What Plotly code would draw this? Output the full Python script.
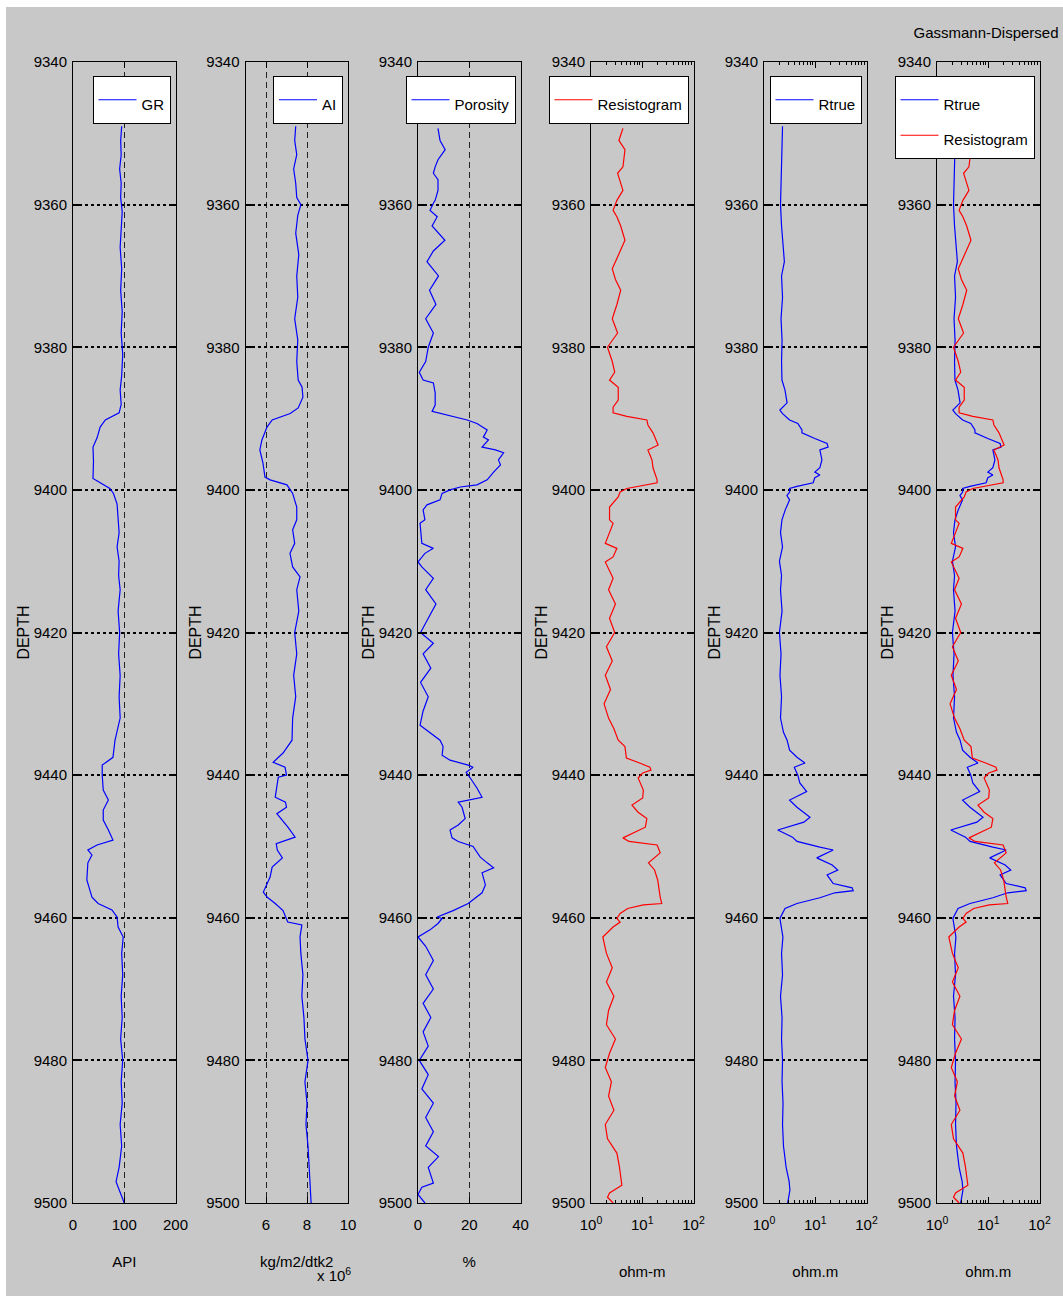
import plotly.graph_objects as go

W, H = 1063, 1297
FONT = "Liberation Sans, Arial, Helvetica, sans-serif"

# ---------------- data ----------------
gr_depth = [9349, 9351, 9353, 9355, 9357, 9359, 9361, 9363, 9366, 9369, 9372, 9375, 9378, 9381, 9384, 9386, 9388,
            9389.2, 9390.2, 9391.2, 9392.7, 9394, 9396, 9398.4, 9399, 9399.8, 9400.5, 9402, 9404, 9406, 9408, 9410,
            9412, 9414, 9417, 9420, 9423, 9426, 9429, 9432, 9435.1, 9437.5, 9438.6, 9440, 9442.1, 9443.5, 9444.9,
            9446.3, 9447.7, 9449.1, 9449.8, 9450.5, 9451.2, 9452.3, 9454.7, 9457.1, 9458, 9458.9, 9459.9, 9461.3,
            9462.7, 9465, 9468, 9471, 9474, 9477, 9480, 9483, 9486, 9489, 9492, 9495, 9497, 9498.5, 9500]
gr_api = [95, 93, 94, 91, 94, 93, 96, 94, 92, 95, 93, 96, 94, 97, 95, 92, 94,
          90, 63, 53, 47, 39, 40, 39, 53, 72, 79, 86, 88, 90, 86, 90,
          89, 92, 88, 91, 89, 92, 90, 92, 82, 78, 57, 57, 59, 69, 59,
          59, 69, 78, 47, 29, 37, 29, 27, 37, 49, 76, 86, 88,
          98, 95, 97, 94, 96, 93, 97, 94, 96, 92, 95, 90, 84, 92, 100]

ai_depth = [9349, 9351, 9353, 9355, 9357, 9359, 9360, 9361.5, 9364, 9367, 9370, 9373, 9376, 9379, 9382, 9384.6,
            9385.6, 9387, 9388.5, 9389.3, 9390.2, 9391.2, 9393, 9394.4, 9396.2, 9398.2, 9398.6, 9399.3, 9400.5,
            9402.4, 9404.2, 9405.6, 9407.5, 9408.9, 9410.8, 9412.2, 9414, 9417, 9420, 9423, 9426, 9429, 9432,
            9435.1, 9436.9, 9438.2, 9438.9, 9440, 9440.3, 9443.1, 9443.8, 9444.5, 9445.4, 9447.3, 9448.7, 9449.6,
            9450.5, 9451.6, 9452.9, 9454.3, 9456.4, 9457.1, 9458, 9459, 9460.6, 9461, 9462.7, 9465, 9468, 9471,
            9474, 9477, 9480, 9483, 9486, 9489, 9492, 9495, 9497, 9500]
ai_val = [7.45, 7.4, 7.5, 7.35, 7.45, 7.5, 7.7, 7.55, 7.45, 7.6, 7.5, 7.55, 7.4, 7.55, 7.5, 7.57,
          7.76, 7.8, 7.57, 7.18, 6.3, 6.05, 5.8, 5.7, 5.85, 5.95, 6.2, 7.02, 7.3,
          7.5, 7.5, 7.3, 7.4, 7.17, 7.3, 7.66, 7.5, 7.6, 7.4, 7.5, 7.35, 7.45, 7.3,
          7.27, 6.83, 6.35, 6.93, 7.0, 6.6, 6.45, 6.95, 7.0, 6.53, 7.07, 7.42, 6.5,
          6.55, 6.8, 6.3, 6.2, 5.87, 6.05, 6.45, 6.83, 7.06, 7.75, 7.66, 7.7, 7.8, 7.75,
          7.85, 7.9, 8.05, 7.9, 8.0, 7.95, 8.05, 8.1, 8.15, 8.2]

por_depth = [9349.3, 9351, 9352.3, 9353.7, 9354.7, 9355.6, 9356.5, 9358, 9359.4, 9359.8, 9360.8, 9361.7, 9363,
             9365, 9366.5, 9368, 9370, 9372, 9374, 9376, 9378, 9380, 9382, 9383.5, 9384.6, 9385, 9386.4, 9388.1,
             9389, 9389.5, 9390.2, 9390.7, 9391.6, 9392.6, 9393, 9394, 9394.4, 9394.8, 9395.8, 9396.5, 9397.5,
             9398.6, 9399.3, 9399.6, 9400, 9400.5, 9401.4, 9402.1, 9402.8, 9404.2, 9404.7, 9407.5, 9408.2, 9408.9,
             9410.1, 9410.8, 9412.4, 9414, 9416, 9418, 9420, 9421.5, 9423, 9425, 9427, 9429, 9431, 9433,
             9435.1, 9436, 9437.2, 9437.9, 9438.6, 9438.9, 9439.6, 9440.4, 9441.8, 9443.1, 9443.8, 9444.5, 9446.1,
             9447, 9447.7, 9448.8, 9449.3, 9450, 9451.5, 9452.3, 9453, 9453.7, 9455.4, 9456.5, 9458, 9459,
             9459.9, 9460.1, 9460.8, 9461.7, 9462.7, 9464, 9466, 9468, 9470, 9472, 9474, 9476, 9478, 9480,
             9482, 9484, 9486, 9488, 9490, 9492, 9493.5, 9495, 9497.2, 9497.8, 9498.8, 9500]
por_pct = [7.8, 8.6, 10.6, 7.8, 6.7, 6.0, 7.8, 7.8, 6.7, 6.0, 4.7, 7.5, 5.5,
           10.5, 6, 3.5, 8, 4.5, 7, 3, 6, 4, 3, 0.5, 2, 6, 6.7, 6.7,
           5.5, 11.3, 19.2, 23, 27, 25.5, 27.5, 25, 30.2, 33.4, 31.4, 32.2, 29.5,
           27, 23, 16.5, 12.5, 9.4, 8.6, 3.5, 2, 2.7, 0.8, 1.5, 6, 2.7,
           0, 1.5, 6, 3, 7, 4, 1, 6, 2, 5, 1, 4, 2, 0.8,
           8.6, 9.8, 9.4, 12.5, 19.6, 21.5, 18.8, 20.4, 23, 25, 15.7, 17.2, 18.4,
           15.7, 12.5, 13.3, 15.7, 21.5, 24.3, 27, 29.5, 25, 26.3, 25, 19.6, 13.7,
           7.5, 9.4, 7.8, 4.7, 0, 3, 6, 3, 6, 2, 5, 2, 4, 0.5,
           4, 1.5, 6, 3, 6, 3, 8, 4, 6, 1.5, 0, 2.7]

res_depth = [9349.3, 9351, 9352.3, 9354.7, 9355.6, 9358, 9359.4, 9360.8, 9361.7, 9363, 9365, 9367, 9369, 9370.5,
             9372, 9374, 9376, 9378, 9380, 9382, 9383.5, 9384.6, 9385.6, 9387.4, 9388.4, 9389.2, 9389.7, 9390.2,
             9390.9, 9392, 9393.7, 9394.4, 9395.8, 9396.9, 9398.6, 9399, 9399.5, 9399.8, 9400.3, 9401, 9402.4,
             9404.2, 9404.7, 9407.5, 9408.2, 9409.4, 9410.1, 9412.4, 9414, 9416, 9418, 9420, 9422, 9424, 9426,
             9428, 9430, 9432, 9433.5, 9435.1, 9436, 9437.6, 9438.3, 9438.9, 9439.3, 9439.7, 9440.4, 9442.1,
             9443.2, 9444.2, 9445.2, 9446.1, 9447.3, 9448, 9448.8, 9449.3, 9449.8, 9450.9, 9452.3, 9453.3, 9454.7,
             9457.1, 9458, 9458.2, 9458.7, 9459.4, 9460.1, 9460.6, 9461.3, 9462.7, 9465, 9467, 9469, 9471, 9473,
             9475, 9477, 9479, 9481, 9483, 9485, 9487, 9489, 9491, 9493, 9495, 9497.5, 9498.6, 9499.2, 9500]
res_ohmm = [4.2, 3.5, 4.6, 4.2, 3.3, 4.2, 3.2, 2.7, 3.2, 3.8, 4.6, 3.4, 2.6, 3.0,
            3.8, 3.2, 2.6, 3.3, 2.1, 2.6, 2.9, 2.3, 3.4, 3.4, 2.7, 2.7, 5.0, 12.3,
            12.9, 16.2, 20.4, 12.9, 15.5, 16.2, 19.5, 19.5, 9.1, 5.0, 3.7, 3.4, 2.3,
            2.3, 2.7, 1.9, 3.2, 2.7, 1.9, 2.7, 2.2, 3.0, 2.3, 2.9, 2.0, 2.6, 1.9,
            2.4, 1.8, 2.2, 2.8, 3.4, 4.6, 4.9, 8.9, 14.1, 14.8, 10.2, 8.3, 10.5,
            10.2, 6.3, 8.3, 12.3, 11.5, 7.0, 4.2, 5.5, 19.5, 22.4, 13.2, 17.4, 20.0,
            22.4, 24.0, 10.5, 5.2, 3.7, 3.2, 3.7, 2.7, 1.7, 2.0, 2.6, 2.0, 2.8, 2.2,
            2.0, 3.0, 2.3, 1.9, 2.5, 2.2, 2.8, 1.9, 2.1, 3.2, 3.6, 4.0, 2.3, 2.1, 2.7]

rt_depth = [9349, 9352, 9355, 9358, 9360, 9363, 9366, 9368, 9370, 9373, 9376, 9379, 9382, 9384.6, 9386, 9387.8,
            9388.8, 9389.3, 9390.2, 9390.7, 9391.6, 9392, 9392.8, 9393.5, 9394, 9394.4, 9395.8, 9396.9, 9397.5,
            9397.9, 9398.3, 9399, 9399.5, 9399.8, 9400.3, 9400.8, 9401.4, 9402.8, 9404.2, 9406, 9408, 9410, 9412,
            9414, 9417, 9420, 9423, 9426, 9429, 9432, 9434, 9435.1, 9436.5, 9437.5, 9438.3, 9438.9, 9440, 9441.1,
            9442.3, 9443.5, 9444.5, 9445.9, 9446.6, 9447.7, 9448.7, 9449.3, 9450.1, 9450.5, 9451.6, 9452.6,
            9453.3, 9454, 9455.2, 9455.8, 9456.2, 9456.5, 9457.2, 9458, 9458.7, 9460.1, 9462.7, 9465, 9468, 9471,
            9474, 9477, 9480, 9483, 9486, 9489, 9492, 9495, 9497, 9498.2, 9500]
rt_ohmm = [2.3, 2.25, 2.2, 2.15, 2.1, 2.2, 2.35, 2.5, 2.2, 2.3, 2.15, 2.25, 2.2, 2.24, 2.57, 2.82,
           2.04, 2.3, 3.16, 4.57, 5.5, 5.5, 9.8, 17.0, 17.8, 12.3, 13.5, 12.3, 9.8,
           12.3, 9.8, 9.1, 4.4, 3.16, 3.16, 2.8, 3.16, 2.6, 2.24, 2.1, 2.3, 2.0, 2.2,
           2.1, 2.25, 2.0, 2.15, 2.05, 2.2, 2.1, 2.4, 2.82, 3.16, 4.4, 6.3, 3.9, 4.57, 5.0,
           6.8, 3.16, 4.4, 7.9, 6.0, 1.86, 3.6, 4.4, 12.3, 22.4, 10.7, 21.4,
           27.5, 17.0, 22.4, 52.5, 55.0, 24.0, 12.3, 4.4, 2.57, 2.04, 2.34, 2.2, 2.3, 2.1,
           2.25, 2.2, 2.3, 2.25, 2.35, 2.3, 2.4, 2.7, 3.1, 3.2, 2.9]

depth_ticks = [9340, 9360, 9380, 9400, 9420, 9440, 9460, 9480, 9500]
gr_ticks = [0, 100, 200]
ai_ticks = [6, 8, 10]
por_ticks = [0, 20, 40]
log_ticks = [1, 10, 100]
log_ticktext = ["10<sup>0</sup>", "10<sup>1</sup>", "10<sup>2</sup>"]
log_minor = [2, 3, 4, 5, 6, 7, 8, 9, 20, 30, 40, 50, 60, 70, 80, 90]
x_titles = ["API", "kg/m2/dtk2", "%", "ohm-m", "ohm.m", "ohm.m"]

# ---------------- layout geometry ----------------
panel_left = [73, 245.5, 418, 591, 764, 937]
PW = 102.5
Y_TOP, Y_BOT = 62, 1203
BLUE, RED = "#0000FF", "#FF0000"
TXT = 15


def leg_name(t):
    return '<span style="font-size:15px">' + t + '</span>'


fig = go.Figure()
fig.add_trace(go.Scatter(x=gr_api, y=gr_depth, mode="lines", line=dict(color=BLUE, width=1.2),
                         name=leg_name("GR"), xaxis="x", yaxis="y", legend="legend"))
fig.add_trace(go.Scatter(x=ai_val, y=ai_depth, mode="lines", line=dict(color=BLUE, width=1.2),
                         name=leg_name("AI"), xaxis="x2", yaxis="y2", legend="legend2"))
fig.add_trace(go.Scatter(x=por_pct, y=por_depth, mode="lines", line=dict(color=BLUE, width=1.2),
                         name=leg_name("Porosity"), xaxis="x3", yaxis="y3", legend="legend3"))
fig.add_trace(go.Scatter(x=res_ohmm, y=res_depth, mode="lines", line=dict(color=RED, width=1.2),
                         name=leg_name("Resistogram"), xaxis="x4", yaxis="y4", legend="legend4"))
fig.add_trace(go.Scatter(x=rt_ohmm, y=rt_depth, mode="lines", line=dict(color=BLUE, width=1.2),
                         name=leg_name("Rtrue"), xaxis="x5", yaxis="y5", legend="legend5"))
fig.add_trace(go.Scatter(x=rt_ohmm, y=rt_depth, mode="lines", line=dict(color=BLUE, width=1.2),
                         name=leg_name("Rtrue"), xaxis="x6", yaxis="y6", legend="legend6"))
fig.add_trace(go.Scatter(x=res_ohmm, y=res_depth, mode="lines", line=dict(color=RED, width=1.2),
                         name=leg_name("Resistogram"), xaxis="x6", yaxis="y6", legend="legend6"))

layout = dict(
    template="none",
    width=W, height=H,
    margin=dict(l=0, r=0, t=0, b=0, autoexpand=False),
    paper_bgcolor="white",
    plot_bgcolor="white",
    showlegend=True,
    font=dict(family=FONT, size=TXT, color="black"),
    title=dict(text="Gassmann-Dispersed", x=986 / W, xanchor="center", y=1 - 33 / H, yanchor="middle",
               font=dict(family=FONT, size=TXT, color="black")),
    shapes=[dict(type="rect", xref="paper", yref="paper", x0=6 / W, x1=1, y0=1 / H, y1=1 - 7 / H,
                 fillcolor="#C8C8C8", line=dict(width=0), layer="below")],
    annotations=[dict(text="x 10<sup>6</sup>", xref="paper", yref="paper", x=334 / W, y=1 - 1274 / H,
                      xanchor="center", yanchor="middle", showarrow=False,
                      font=dict(family=FONT, size=TXT, color="black"))],
)

ydom = [1 - Y_BOT / H, 1 - Y_TOP / H]
for i in range(6):
    s = "" if i == 0 else str(i + 1)
    xa = dict(
        domain=[panel_left[i] / W, (panel_left[i] + PW) / W],
        anchor="y" + s, automargin=False,
        showline=True, linecolor="black", linewidth=1, mirror="ticks",
        ticks="inside", ticklen=6, tickcolor="black",
        zeroline=False, fixedrange=True,
        tickfont=dict(family=FONT, size=TXT, color="black"),
        ticklabelstandoff=8,
        title=dict(text=x_titles[i], font=dict(family=FONT, size=TXT, color="black"), standoff=24),
    )
    if i < 3:
        xa.update(showgrid=True, gridcolor="#222222", gridwidth=1, griddash="6px,4px")
        xa["range"] = [[0, 200], [5, 10], [0, 40]][i]
        xa["tickvals"] = [gr_ticks, ai_ticks, por_ticks][i]
    else:
        xa.update(type="log", range=[0, 2], tickvals=log_ticks, ticktext=log_ticktext, showgrid=False,
                  minor=dict(tickvals=log_minor, ticks="inside", ticklen=3, tickcolor="black", showgrid=False))
        xa["title"]["standoff"] = 34
    layout["xaxis" + s] = xa
    layout["yaxis" + s] = dict(
        domain=ydom, anchor="x" + s, range=[9500, 9340], tickvals=depth_ticks, automargin=False,
        showline=True, linecolor="black", linewidth=1, mirror="ticks",
        ticks="inside", ticklen=7, tickcolor="black", tickwidth=1.5,
        showgrid=True, gridcolor="black", gridwidth=1.5, griddash="3px,3px",
        zeroline=False, fixedrange=True,
        tickfont=dict(family=FONT, size=TXT, color="black"),
        ticklabelstandoff=2,
        title=dict(text="DEPTH", font=dict(family=FONT, size=16, color="black"), standoff=0),
    )
    lg = dict(x=(panel_left[i] + PW - 5) / W, y=1 - 76 / H, xanchor="right", yanchor="top",
              bgcolor="white", bordercolor="black", borderwidth=1,
              font=dict(family=FONT, size=25, color="black"), itemwidth=38, tracegroupgap=0)
    layout["legend" + s] = lg

fig.update_layout(**layout)
fig.write_html("out.html", config={"displayModeBar": False},
               post_script="document.body.style.margin='0px';document.body.style.padding='0px';")
